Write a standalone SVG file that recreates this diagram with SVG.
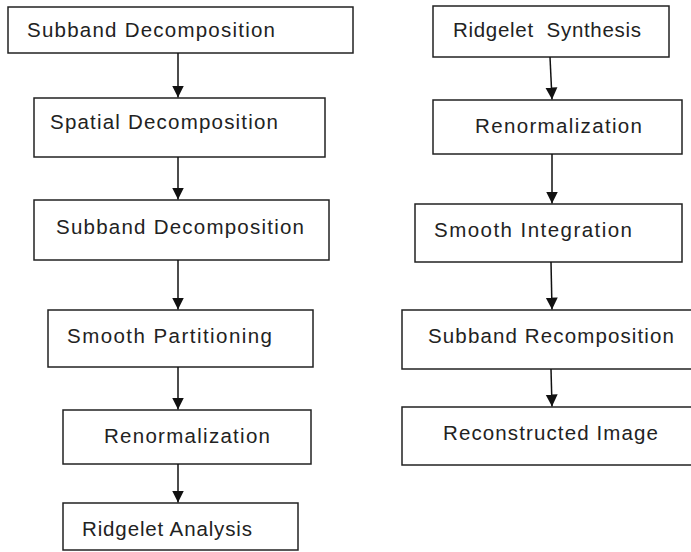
<svg xmlns="http://www.w3.org/2000/svg" width="691" height="552" viewBox="0 0 691 552">
  <style>
    .box { fill: #ffffff; stroke: #222222; stroke-width: 1.5; }
    .lbl { font-family: "Liberation Sans", Arial, sans-serif; font-size: 20.5px; fill: #222222; }
    .edge { stroke: #111111; stroke-width: 1.5; fill: none; marker-end: url(#arrow); }
  </style>
  <defs>
    <marker id="arrow" markerUnits="userSpaceOnUse" markerWidth="13" markerHeight="13" refX="12" refY="6.5" orient="auto">
      <path d="M0,0.5 L12,6.5 L0,12.5 Z" fill="#111111"/>
    </marker>
  </defs>
  <rect width="691" height="552" fill="#ffffff"/>

  <!-- Left column: analysis chain -->
  <g id="n-subband-1">
    <rect class="box" x="8" y="7" width="345" height="46"/>
    <text class="lbl" x="27" y="37" textLength="248" lengthAdjust="spacing">Subband Decomposition</text>
  </g>
  <g id="n-spatial">
    <rect class="box" x="34" y="98" width="291" height="59"/>
    <text class="lbl" x="50" y="129" textLength="228" lengthAdjust="spacing">Spatial Decomposition</text>
  </g>
  <g id="n-subband-2">
    <rect class="box" x="34" y="200" width="295" height="60"/>
    <text class="lbl" x="56" y="234" textLength="248" lengthAdjust="spacing">Subband Decomposition</text>
  </g>
  <g id="n-partition">
    <rect class="box" x="48" y="310" width="265" height="57"/>
    <text class="lbl" x="67" y="343" textLength="205" lengthAdjust="spacing">Smooth Partitioning</text>
  </g>
  <g id="n-renorm-1">
    <rect class="box" x="63" y="410" width="248" height="54"/>
    <text class="lbl" x="104" y="443" textLength="166" lengthAdjust="spacing">Renormalization</text>
  </g>
  <g id="n-ridgelet-analysis">
    <rect class="box" x="63" y="503" width="235" height="47"/>
    <text class="lbl" x="82" y="536" textLength="170" lengthAdjust="spacing">Ridgelet Analysis</text>
  </g>

  <!-- Right column: synthesis chain -->
  <g id="n-ridgelet-synthesis">
    <rect class="box" x="433" y="6" width="236" height="51"/>
    <text class="lbl" x="453" y="37" textLength="188" lengthAdjust="spacing" xml:space="preserve">Ridgelet  Synthesis</text>
  </g>
  <g id="n-renorm-2">
    <rect class="box" x="433" y="100" width="249" height="54"/>
    <text class="lbl" x="475" y="133" textLength="167" lengthAdjust="spacing">Renormalization</text>
  </g>
  <g id="n-integration">
    <rect class="box" x="415" y="204" width="267" height="58"/>
    <text class="lbl" x="434" y="237" textLength="198" lengthAdjust="spacing">Smooth Integration</text>
  </g>
  <g id="n-recomposition">
    <rect class="box" x="402" y="310" width="300" height="59"/>
    <text class="lbl" x="428" y="343" textLength="246" lengthAdjust="spacing">Subband Recomposition</text>
  </g>
  <g id="n-reconstructed">
    <rect class="box" x="402" y="407" width="300" height="58"/>
    <text class="lbl" x="443" y="440" textLength="215" lengthAdjust="spacing">Reconstructed Image</text>
  </g>

  <!-- Connectors -->
  <g id="connectors">
    <line class="edge" x1="178" y1="53" x2="178" y2="97.5"/>
    <line class="edge" x1="178" y1="157" x2="178" y2="199.5"/>
    <line class="edge" x1="178" y1="260" x2="178" y2="309.5"/>
    <line class="edge" x1="178" y1="367" x2="178" y2="409.5"/>
    <line class="edge" x1="178" y1="464" x2="178" y2="502.5"/>

    <line class="edge" x1="550" y1="57" x2="552" y2="99.5"/>
    <line class="edge" x1="552" y1="154" x2="552" y2="203.5"/>
    <line class="edge" x1="551" y1="262" x2="552" y2="309.5"/>
    <line class="edge" x1="551" y1="369" x2="552" y2="406.5"/>
  </g>
</svg>
